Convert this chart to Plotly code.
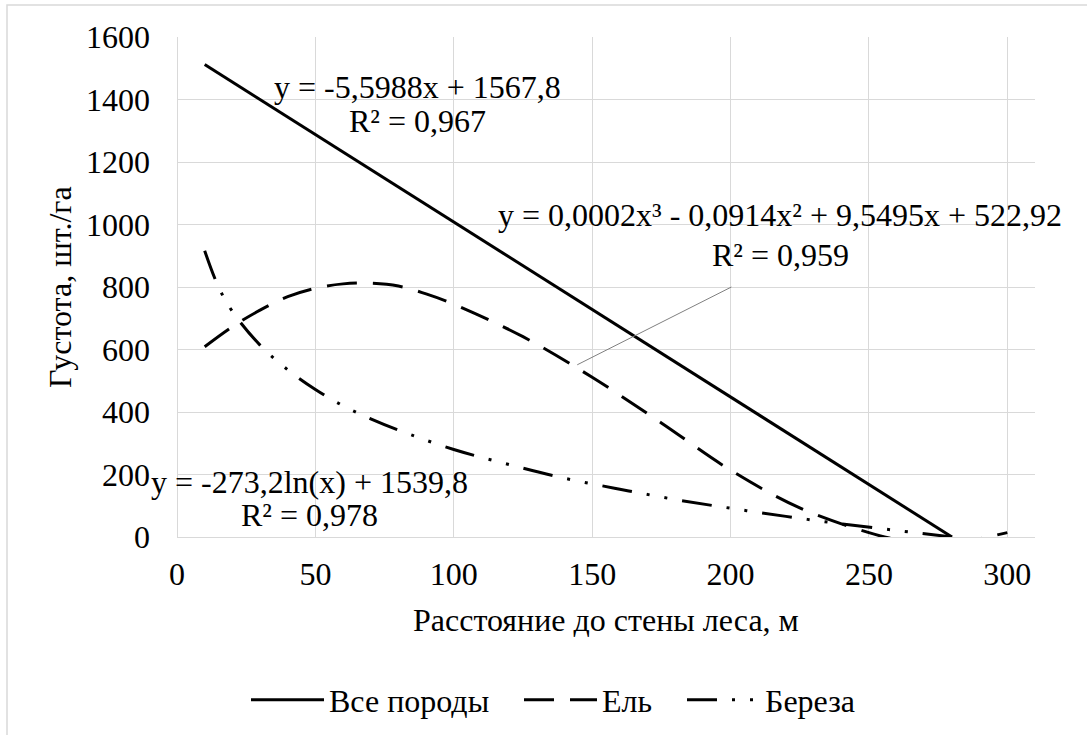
import plotly.graph_objects as go

# ---- data ----
x_all = [10, 100, 200, 280]
y_all = [1512, 1008, 448, 0]

x_spruce = [10, 20, 30, 40, 50, 60, 70, 80, 90, 100, 125, 150, 175, 200, 225, 250, 260, 270, 280, 290, 300]
y_spruce = [609, 673, 726, 769, 796, 810, 812, 803, 778, 745, 641, 511, 365, 214, 93, 14, -8, -18, -18, -5, 14]

x_birch = [10, 15, 20, 30, 40, 50, 60, 70, 80, 100, 120, 140, 160, 180, 200, 220, 240, 260, 280]
y_birch = [916, 800, 722, 614, 535, 472, 420, 378, 342, 280, 232, 188, 153, 120, 92, 66, 42, 21, 0]

series_names = ["Все породы", "Ель", "Береза"]
x_ticks = [0, 50, 100, 150, 200, 250, 300]
y_ticks = [0, 200, 400, 600, 800, 1000, 1200, 1400, 1600]

eq_all = ["y = -5,5988x + 1567,8", "R² = 0,967"]
eq_spruce = ["y = 0,0002x³ - 0,0914x² + 9,5495x + 522,92", "R² = 0,959"]
eq_birch = ["y = -273,2ln(x) + 1539,8", "R² = 0,978"]

x_title = "Расстояние до стены леса, м"
y_title = "Густота, шт./га"

FONT = "Liberation Serif, Times New Roman, serif"
FS = 32
GRID = "#d9d9d9"

fig = go.Figure()
fig.add_trace(go.Scatter(x=x_all, y=y_all, mode="lines", name=series_names[0], legend="legend",
                         line=dict(color="black", width=3)))
fig.add_trace(go.Scatter(x=x_spruce, y=y_spruce, mode="lines", name=series_names[1], legend="legend2",
                         line=dict(color="black", width=3, dash="30px,16px", shape="spline")))
fig.add_trace(go.Scatter(x=x_birch, y=y_birch, mode="lines", name=series_names[2], legend="legend3",
                         line=dict(color="black", width=3, dash="30px,15px,3px,15px,3px,15px",
                                   shape="spline")))

ann = []
def eq(lines, xc, ys):
    for t, yy in zip(lines, ys):
        ann.append(dict(x=xc, y=yy, xref="x", yref="y", text=t, showarrow=False,
                        xanchor="center", yanchor="middle",
                        font=dict(family=FONT, size=FS, color="black")))

eq(eq_all, 86.8, [1439, 1330])
eq(eq_spruce, 218, [1029, 903])
eq(eq_birch, 47.8, [177, 70])

# axis titles
ann.append(dict(x=0.5, y=(537 - 620) / 500, xref="paper", yref="paper", text=x_title,
                showarrow=False, xanchor="center", yanchor="middle",
                font=dict(family=FONT, size=FS, color="black")))
ann.append(dict(x=(60 - 177) / 858, y=0.5, xref="paper", yref="paper", text=y_title,
                showarrow=False, xanchor="center", yanchor="middle", textangle=-90,
                font=dict(family=FONT, size=FS, color="black")))

shapes = [
    # leader line of the polynomial label
    dict(type="line", xref="x", yref="y", x0=144.6, y0=551, x1=200.3, y1=800,
         line=dict(color="#808080", width=1)),
    # chart-area border
    dict(type="rect", xref="paper", yref="paper",
         x0=(7 - 177) / 858, x1=(1100 - 177) / 858, y0=(537 - 760) / 500, y1=(537 - 5) / 500,
         line=dict(color=GRID, width=1.5), layer="below"),
]

def leg(px):
    return dict(orientation="h", x=(px - 8 - 177) / 858, y=(537 - 700) / 500,
                xanchor="left", yanchor="middle", itemwidth=73,
                font=dict(family=FONT, size=FS, color="black"), bgcolor="rgba(0,0,0,0)")

fig.update_layout(
    width=1087, height=735, autosize=False,
    margin=dict(l=177, r=52, t=37, b=198, autoexpand=False),
    paper_bgcolor="white", plot_bgcolor="white",
    font=dict(family=FONT, size=FS, color="black"),
    showlegend=True,
    legend=leg(254), legend2=leg(527), legend3=leg(690),
    annotations=ann, shapes=shapes,
)
fig.update_xaxes(range=[0, 310], tickvals=x_ticks, showgrid=True, gridcolor=GRID, gridwidth=1,
                 zeroline=True, zerolinecolor=GRID, zerolinewidth=1, showline=False, automargin=False,
                 ticks="", ticklabelstandoff=15, tickfont=dict(family=FONT, size=FS))
fig.update_yaxes(range=[0, 1600], tickvals=y_ticks, showgrid=True, gridcolor=GRID, gridwidth=1,
                 zeroline=True, zerolinecolor=GRID, zerolinewidth=1, showline=False, automargin=False,
                 ticks="", ticklabelstandoff=26, tickfont=dict(family=FONT, size=FS))

fig.write_html("out.html")
